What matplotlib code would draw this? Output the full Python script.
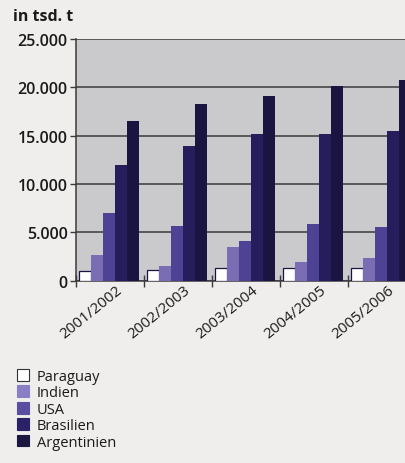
import matplotlib
matplotlib.use("Agg")
import matplotlib.pyplot as plt
from matplotlib.patches import Patch
import numpy as np

plt.rcParams["font.family"] = ["Open Sans", "DejaVu Sans"]

# Data (in tsd. t)
seasons = ["2001/2002", "2002/2003", "2003/2004", "2004/2005", "2005/2006"]
countries = ["Paraguay", "Indien", "USA", "Brasilien", "Argentinien"]
paraguay = [950, 1050, 1300, 1300, 1250]
indien = [2600, 1450, 3500, 1950, 2300]
usa = [7000, 5600, 4100, 5800, 5550]
brasilien = [12000, 13900, 15150, 15150, 15500]
argentinien = [16500, 18250, 19100, 20100, 20800]
series = [paraguay, indien, usa, brasilien, argentinien]

# Colors
C_BG = "#efeeec"
C_PLOT = "#cacacd"
C_GRID = "#3a3a3a"
bar_colors = ["#ffffff", "#7a6db3", "#4d4294", "#261e5c", "#1a1540"]
legend_colors = ["#ffffff", "#8a7fc4", "#5a4ea0", "#2a2266", "#1c1740"]

fig = plt.figure(figsize=(4.06, 4.64), dpi=100)
fig.patch.set_facecolor(C_BG)

# axes run past the right edge, like the cropped scan
ax = fig.add_axes([76 / 406, (464 - 281.5) / 464, 340 / 406, 241.5 / 464])
ax.set_facecolor(C_PLOT)

x = np.arange(len(seasons))
bw = 12 / 68
for k, (vals, col) in enumerate(zip(series, bar_colors)):
    ec = "#1a1540" if k == 0 else col
    lw = 0.9 if k == 0 else 0
    ax.bar(x + (9 + 12 * k) / 68, vals, width=bw, color=col,
           edgecolor=ec, linewidth=lw, zorder=3)

ax.set_xlim(0, 5)
ax.set_ylim(0, 25000)
ax.set_yticks(np.arange(0, 25001, 5000))
ax.set_yticklabels(["0", "5.000", "10.000", "15.000", "20.000", "25.000"])
ax.yaxis.grid(True, color=C_GRID, linewidth=1.1, zorder=1)
ax.set_axisbelow(True)
ax.tick_params(axis="y", length=4.5, width=1, color=C_GRID, labelsize=11.5,
               labelcolor="#1a1a1a", pad=1.5)
for lbl in ax.get_yticklabels():
    lbl.set_fontweight("semibold")

ax.set_xticks(x)
ax.set_xticklabels([])
ax.tick_params(axis="x", direction="inout", length=8, width=1, color=C_GRID)
ax.set_xticks(x + 0.58, minor=True)
ax.set_xticklabels(seasons, minor=True, rotation=39, ha="right",
                   rotation_mode="anchor", fontsize=11, color="#1a1a1a")
ax.tick_params(axis="x", which="minor", length=0, pad=1.5)

for side in ["top", "right"]:
    ax.spines[side].set_visible(False)
for side in ["left", "bottom"]:
    ax.spines[side].set_color(C_GRID)
    ax.spines[side].set_linewidth(1.1)

fig.text(13 / 406, 1 - 17 / 464, "in tsd. t", fontsize=11.5, fontweight="bold",
         color="#1a1a1a", ha="left", va="center")

handles = [Patch(facecolor=c, edgecolor="#333333" if i == 0 else c, linewidth=0.8)
           for i, c in enumerate(legend_colors)]
fig.legend(handles, countries, loc="upper left",
           bbox_to_anchor=(11 / 406, 1 - 364 / 464), frameon=False,
           fontsize=10.5, handlelength=0.85, handleheight=0.85,
           handletextpad=0.5, labelspacing=0.1, borderaxespad=0,
           labelcolor="#1a1a1a")

plt.savefig("out.png", dpi=100, facecolor=fig.get_facecolor())
plt.close()
